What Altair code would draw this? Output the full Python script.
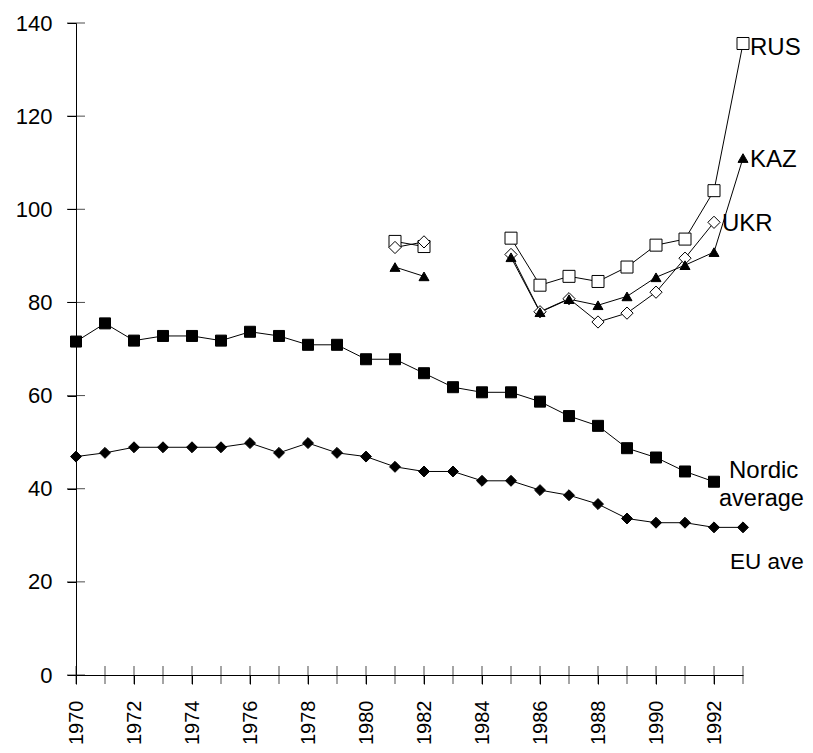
import altair as alt
import pandas as pd

# ---------------- data ----------------
years = list(range(1970, 1994))
nordic_years = list(range(1970, 1993))
nordic = [71.6, 75.5, 71.8, 72.8, 72.8, 71.8, 73.7, 72.8, 70.9, 70.9, 67.8, 67.8,
          64.8, 61.8, 60.7, 60.7, 58.7, 55.6, 53.5, 48.7, 46.7, 43.7, 41.5]
eu_years = list(range(1970, 1994))
eu = [46.9, 47.7, 48.9, 48.9, 48.9, 48.9, 49.8, 47.7, 49.8, 47.7, 46.9, 44.7,
      43.7, 43.7, 41.7, 41.7, 39.7, 38.6, 36.7, 33.6, 32.7, 32.7, 31.7, 31.7]
rus_years = [1981, 1982, 1985, 1986, 1987, 1988, 1989, 1990, 1991, 1992, 1993]
rus = [93.1, 92.0, 93.8, 83.7, 85.6, 84.5, 87.6, 92.3, 93.6, 104.0, 135.6]
ukr_years = [1981, 1982, 1985, 1986, 1987, 1988, 1989, 1990, 1991, 1992]
ukr = [91.8, 93.0, 90.3, 78.0, 80.8, 75.8, 77.7, 82.2, 89.5, 97.2]
kaz_years = [1981, 1982, 1985, 1986, 1987, 1988, 1989, 1990, 1991, 1992, 1993]
kaz = [87.6, 85.6, 89.7, 77.9, 80.7, 79.4, 81.3, 85.4, 88.0, 90.8, 111.0]
y_ticks = [0, 20, 40, 60, 80, 100, 120, 140]
labels = ["RUS", "KAZ", "UKR", "Nordic", "average", "EU ave"]

series = [
    ("Nordic average", nordic_years, nordic, False),
    ("EU ave", eu_years, eu, False),
    ("RUS", rus_years, rus, True),
    ("UKR", ukr_years, ukr, True),
    ("KAZ", kaz_years, kaz, True),
]

rows = []
for name, ys, vs, gapped in series:
    for yr, v in zip(ys, vs):
        rows.append({"series": name, "year": yr, "value": v,
                     "seg": (0 if yr < 1984 else 1) if gapped else 1})
df = pd.DataFrame(rows)

FONT = "Liberation Sans"

x_enc = alt.X("year:Q",
              scale=alt.Scale(domain=[1970, 1993], nice=False, zero=False),
              axis=alt.Axis(values=years, format="d",
                            labelExpr="datum.value % 2 == 0 ? datum.label : ''",
                            labelAngle=-90, labelAlign="right", labelBaseline="middle",
                            labelPadding=16, tickSize=9, labelFontSize=20, title=None))
y_enc = alt.Y("value:Q",
              scale=alt.Scale(domain=[0, 140], nice=False),
              axis=alt.Axis(values=y_ticks, labelPadding=15, tickSize=9,
                            labelFontSize=22, title=None))

base = alt.Chart(df)

lines = base.mark_line(color="black", strokeWidth=1).encode(
    x=x_enc, y=y_enc, detail=["series:N", "seg:N"])


def pts(name, shape, size, fill):
    return base.transform_filter(alt.datum.series == name).mark_point(
        shape=shape, size=size, filled=True, fill=fill, stroke="black",
        strokeWidth=1, opacity=1).encode(x="year:Q", y="value:Q")


p_nordic = pts("Nordic average", "square", 121, "black")
p_eu = pts("EU ave", "diamond", 120, "black")
p_rus = pts("RUS", "square", 144, "white")
p_ukr = pts("UKR", "diamond", 150, "white")
p_kaz = pts("KAZ", "triangle-up", 100, "black")

ytick_df = pd.DataFrame({"value": y_ticks})
xtick_df = pd.DataFrame({"year": years})
one_df = pd.DataFrame({"k": [0]})
yticks = alt.Chart(ytick_df).mark_tick(orient="horizontal", size=18, thickness=1,
                                        color="black").encode(
    x=alt.value(0), y="value:Q")
xticks = alt.Chart(xtick_df).mark_tick(orient="vertical", size=18, thickness=1,
                                        color="black").encode(
    x="year:Q", y=alt.value(652))


def label(text, xv, yv, dx, dy, size):
    return alt.Chart(one_df).mark_text(
        text=text, align="left", baseline="alphabetic", dx=dx, dy=dy,
        font=FONT, fontSize=size, color="black").encode(
        x=alt.datum(xv), y=alt.datum(yv))


t_rus = label(labels[0], rus_years[-1], rus[-1], 7, 12, 24)
t_kaz = label(labels[1], kaz_years[-1], kaz[-1], 7, 9, 24)
t_ukr = label(labels[2], ukr_years[-1], ukr[-1], 8, 9, 24)
t_n1 = label(labels[3], nordic_years[-1], nordic[-1], 15, -4, 24)
t_n2 = label(labels[4], nordic_years[-1], nordic[-1], 5, 24, 23.5)
t_eu = label(labels[5], eu_years[-1], eu[-1], -13, 42, 22.5)

chart = alt.layer(
    lines, p_nordic, p_eu, p_rus, p_ukr, p_kaz, yticks, xticks,
    t_rus, t_kaz, t_ukr, t_n1, t_n2, t_eu,
).properties(
    width=667, height=652,
    background="white",
    autosize=alt.AutoSizeParams(type="none"),
    padding={"left": 68, "top": 15, "right": 62, "bottom": 70},
).configure_axis(
    grid=False, domainColor="black", domainWidth=1, tickColor="black", tickWidth=1,
    labelColor="black", labelFont=FONT,
).configure_view(stroke=None)

chart.save("out.html", embed_options={"renderer": "svg", "actions": False})
